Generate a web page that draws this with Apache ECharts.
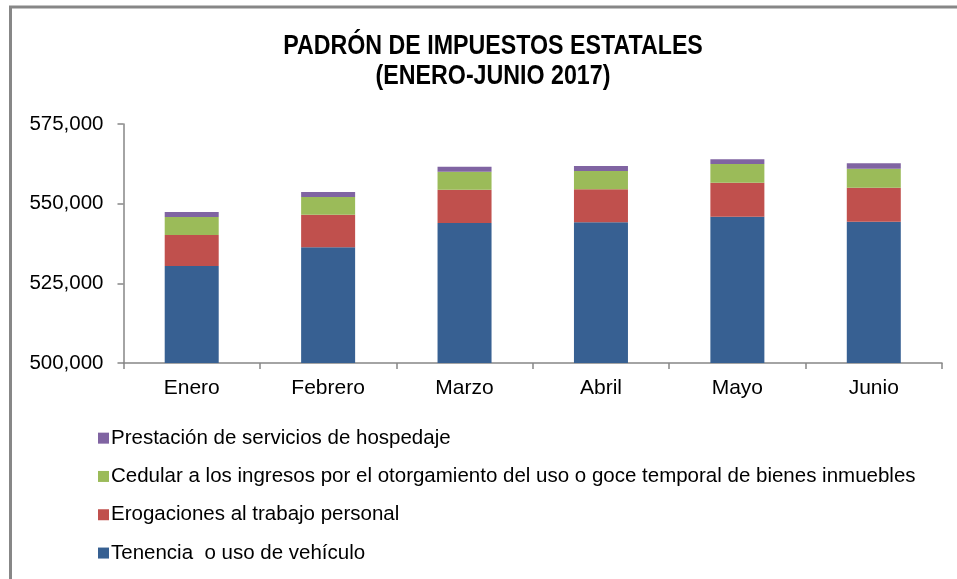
<!DOCTYPE html>
<html>
<head>
<meta charset="utf-8">
<script src="https://cdn.jsdelivr.net/npm/echarts@6/dist/echarts.min.js"></script>
<style>
  html, body { margin: 0; padding: 0; background: #fff; }
  #main { width: 957px; height: 579px; }
</style>
</head>
<body>
<div id="main"></div>
<script>
// datos
var meses = ['Enero', 'Febrero', 'Marzo', 'Abril', 'Mayo', 'Junio'];
var tenencia = [530440, 536300, 543930, 544150, 545910, 544340];
var erogaciones = [9730, 10230, 10460, 10360, 10670, 10670];
var cedular = [5650, 5550, 5640, 5740, 5870, 5960];
var hospedaje = [1570, 1570, 1570, 1570, 1470, 1700];
var ejeY = [500000, 525000, 550000, 575000];

var titulo = ['PADRÓN DE IMPUESTOS ESTATALES', '(ENERO-JUNIO 2017)'];
var nombres = {
  tenencia: 'Tenencia  o uso de vehículo',
  erogaciones: 'Erogaciones al trabajo personal',
  cedular: 'Cedular a los ingresos por el otorgamiento del uso o goce temporal de bienes inmuebles',
  hospedaje: 'Prestación de servicios de hospedaje'
};

var myChart = echarts.init(document.getElementById('main'));
var fuente = "'Liberation Sans', Arial, sans-serif";

function serie(nombre, datos, color) {
  return {
    name: nombre,
    type: 'bar',
    stack: 'total',
    data: datos,
    barWidth: 54,
    itemStyle: { color: color },
    emphasis: { disabled: true }
  };
}

// titulo en letra angosta (se comprime horizontalmente)
function lineaTitulo(texto, y) {
  return {
    type: 'text',
    x: 493,
    y: y,
    scaleX: 0.86,
    style: {
      text: texto,
      font: "bold 27px 'Liberation Sans', Arial, sans-serif",
      fill: '#000',
      textAlign: 'center',
      textVerticalAlign: 'middle'
    }
  };
}

var option = {
  animation: false,
  backgroundColor: '#fff',
  graphic: [
    { type: 'line', shape: { x1: 10.5, y1: 7, x2: 10.5, y2: 579 }, style: { stroke: '#878787', lineWidth: 3 } },
    { type: 'line', shape: { x1: 9, y1: 7, x2: 957, y2: 7 }, style: { stroke: '#878787', lineWidth: 3 } },
    lineaTitulo(titulo[0], 47),
    lineaTitulo(titulo[1], 77)
  ],
  grid: { left: 123.5, right: 15, top: 124, bottom: 216 },
  legend: {
    orient: 'vertical',
    left: 93,
    top: 422,
    itemWidth: 11,
    itemHeight: 11,
    itemGap: 16,
    icon: 'rect',
    selectedMode: false,
    data: [nombres.hospedaje, nombres.cedular, nombres.erogaciones, nombres.tenencia],
    textStyle: { fontFamily: fuente, fontSize: 20.5, lineHeight: 22.3, color: '#000', padding: [0, 0, 0, -3] }
  },
  xAxis: {
    type: 'category',
    data: meses,
    axisLine: { lineStyle: { color: '#868686', width: 1.5 } },
    axisTick: { show: true, length: 6, lineStyle: { color: '#868686', width: 1.5 } },
    axisLabel: { fontFamily: fuente, fontSize: 21, color: '#000', margin: 15 }
  },
  yAxis: {
    type: 'value',
    min: ejeY[0],
    max: ejeY[ejeY.length - 1],
    interval: ejeY[1] - ejeY[0],
    splitLine: { show: false },
    axisLine: { show: true, lineStyle: { color: '#868686', width: 1.5 } },
    axisTick: { show: true, length: 6, lineStyle: { color: '#868686', width: 1.5 } },
    axisLabel: {
      fontFamily: fuente, fontSize: 20.5, color: '#000', margin: 20,
      formatter: function (v) { return v.toLocaleString('en-US'); }
    }
  },
  series: [
    serie(nombres.tenencia, tenencia, '#376092'),
    serie(nombres.erogaciones, erogaciones, '#c0504d'),
    serie(nombres.cedular, cedular, '#9bbb59'),
    serie(nombres.hospedaje, hospedaje, '#8064a2')
  ]
};

option && myChart.setOption(option);
</script>
</body>
</html>
